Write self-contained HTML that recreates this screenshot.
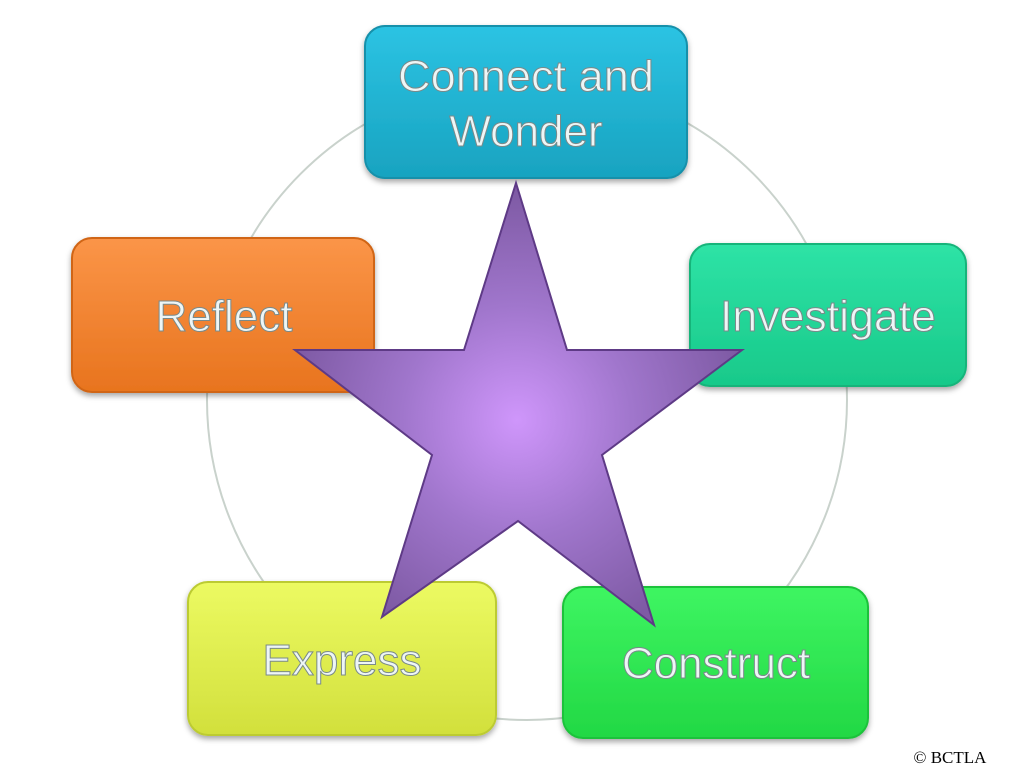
<!DOCTYPE html>
<html><head><style>
html,body{margin:0;padding:0;background:#fff;width:1024px;height:768px;overflow:hidden}
</style></head><body>
<svg width="1024" height="768" xmlns="http://www.w3.org/2000/svg">
<defs>
<linearGradient id="gT" x1="0" y1="0" x2="0" y2="1"><stop offset="0" stop-color="#2cc3e3"/><stop offset="1" stop-color="#18a3c0"/></linearGradient>
<linearGradient id="gR" x1="0" y1="0" x2="0" y2="1"><stop offset="0" stop-color="#fb9548"/><stop offset="1" stop-color="#e8741e"/></linearGradient>
<linearGradient id="gI" x1="0" y1="0" x2="0" y2="1"><stop offset="0" stop-color="#2ee3a6"/><stop offset="1" stop-color="#18c98a"/></linearGradient>
<linearGradient id="gE" x1="0" y1="0" x2="0" y2="1"><stop offset="0" stop-color="#ecfa62"/><stop offset="1" stop-color="#d2e03c"/></linearGradient>
<linearGradient id="gC" x1="0" y1="0" x2="0" y2="1"><stop offset="0" stop-color="#3ef562"/><stop offset="1" stop-color="#22d844"/></linearGradient>
<radialGradient id="gS" cx="517" cy="420" r="230" gradientUnits="userSpaceOnUse"><stop offset="0" stop-color="#cf96fb"/><stop offset="0.5" stop-color="#a076cc"/><stop offset="1" stop-color="#7e5aa4"/></radialGradient>
<filter id="sh" x="-10%" y="-10%" width="120%" height="130%"><feDropShadow dx="0" dy="3" stdDeviation="3" flood-color="#000" flood-opacity="0.35"/></filter>
</defs>
<circle cx="527" cy="400" r="320" fill="none" stroke="#c9d2cc" stroke-width="2"/>
<g filter="url(#sh)">
<rect x="365" y="26" width="322" height="152" rx="20" fill="url(#gT)" stroke="#1390aa" stroke-width="2"/>
<rect x="72" y="238" width="302" height="154" rx="20" fill="url(#gR)" stroke="#d06514" stroke-width="2"/>
<rect x="690" y="244" width="276" height="142" rx="20" fill="url(#gI)" stroke="#14b47a" stroke-width="2"/>
<rect x="188" y="582" width="308" height="153" rx="20" fill="url(#gE)" stroke="#bccb32" stroke-width="2"/>
<rect x="563" y="587" width="305" height="151" rx="20" fill="url(#gC)" stroke="#1cc23a" stroke-width="2"/>
</g>
<g font-family="Liberation Sans, sans-serif" font-size="44" fill="#eef6f6" stroke="#7a8a8a" stroke-width="1" text-anchor="middle">
<text x="526" y="91" textLength="256" lengthAdjust="spacingAndGlyphs">Connect and</text>
<text x="526" y="146">Wonder</text>
<text x="224" y="331">Reflect</text>
<text x="828" y="331" textLength="216" lengthAdjust="spacingAndGlyphs">Investigate</text>
<text x="342" y="675">Express</text>
<text x="716" y="678">Construct</text>
</g>
<polygon points="516,183 567,350 742,350 602,455 654,625 518,521 382,617 432,455 295,350 464,350" fill="url(#gS)" stroke="#5e3a86" stroke-width="2"/>
<text x="950" y="763" font-family="Liberation Serif, serif" font-size="17" text-anchor="middle" fill="#000">© BCTLA</text>
</svg>
</body></html>
